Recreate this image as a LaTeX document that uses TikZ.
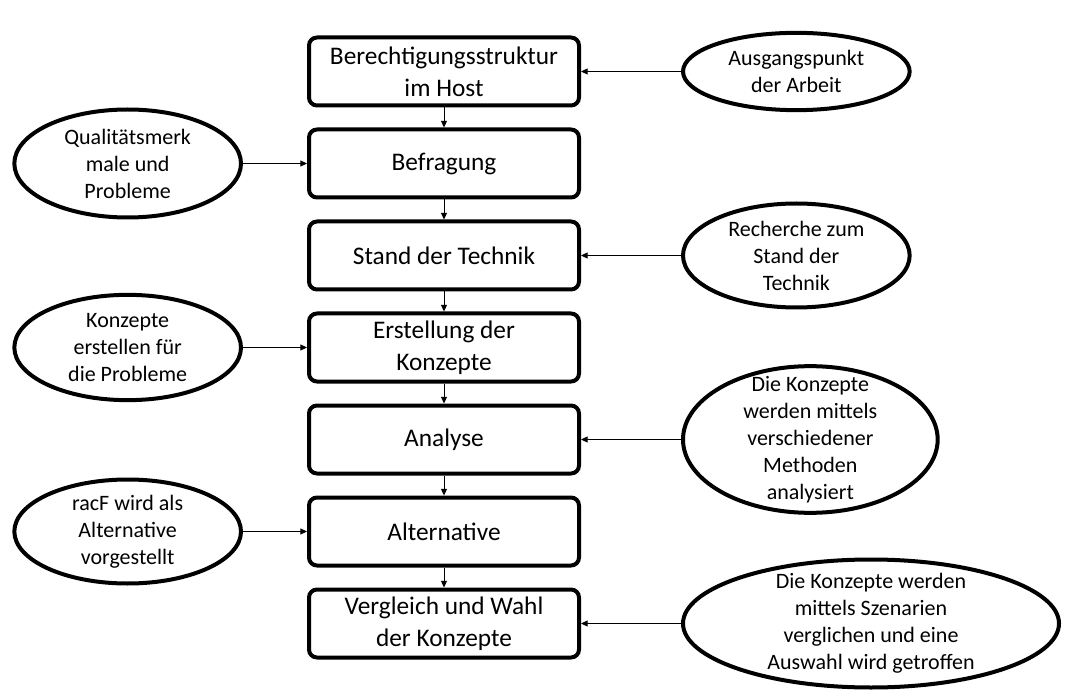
\documentclass[tikz,border=0pt]{standalone}
\usepackage{fontspec}
\setmainfont{Carlito}
\usetikzlibrary{arrows.meta,positioning,shapes.geometric}

\begin{document}
\begin{tikzpicture}[x=0.75pt,y=-0.75pt,>={Triangle[length=5pt,width=4.5pt]},node distance=15pt and 75pt,
  stepbox/.style={draw,line width=3pt,rounded corners=6pt,minimum width=202.5pt,minimum height=51pt,align=center,font=\fontsize{19}{24}\selectfont},
  note/.style={draw,ellipse,line width=3pt,align=center,inner sep=-15pt,font=\fontsize{16.5}{20.25}\selectfont}]
\useasboundingbox (0,0) rectangle (1081,698);
\node[stepbox] (host) at (444,71.5) {Berechtigungsstruktur\\im Host};
\node[stepbox,below=of host] (befr) {Befragung};
\node[stepbox,below=of befr] (tech) {Stand der Technik};
\node[stepbox,below=of tech] (konz) {Erstellung der\\Konzepte};
\node[stepbox,below=of konz] (anal) {Analyse};
\node[stepbox,below=of anal] (alt) {Alternative};
\node[stepbox,below=of alt] (wahl) {Vergleich und Wahl\\der Konzepte};
\foreach \a/\b in {host/befr,befr/tech,tech/konz,konz/anal,anal/alt,alt/wahl}
  \draw[->,line width=0.75pt] (\a) -- (\b);
% Erlaeuterungen rechts
\node[note,right=of host,minimum width=170pt,minimum height=58pt] (start) {Ausgangspunkt\\der Arbeit};
\node[note,right=of tech,minimum width=170pt,minimum height=78pt] (rech) {Recherche zum\\Stand der\\Technik};
\node[note,right=of anal,minimum width=191pt,minimum height=110pt] (meth) {Die Konzepte\\werden mittels\\verschiedener\\Methoden\\analysiert};
\node[note,right=of wahl,minimum width=282pt,minimum height=96pt] (szen) {Die Konzepte werden\\mittels Szenarien\\verglichen und eine\\Auswahl wird getroffen};
% Erlaeuterungen links
\node[note,left=48pt of befr,minimum width=170pt,minimum height=81pt] (qual) {Qualitätsmerk\\male und\\Probleme};
\node[note,left=48pt of konz,minimum width=170pt,minimum height=79pt] (prob) {Konzepte\\erstellen für\\die Probleme};
\node[note,left=48pt of alt,minimum width=170pt,minimum height=78pt] (racf) {racF wird als\\Alternative\\vorgestellt};
\foreach \a/\b in {start/host,rech/tech,meth/anal,szen/wahl,qual/befr,prob/konz,racf/alt}
  \draw[->,line width=0.75pt] (\a) -- (\b);
\end{tikzpicture}
\end{document}
